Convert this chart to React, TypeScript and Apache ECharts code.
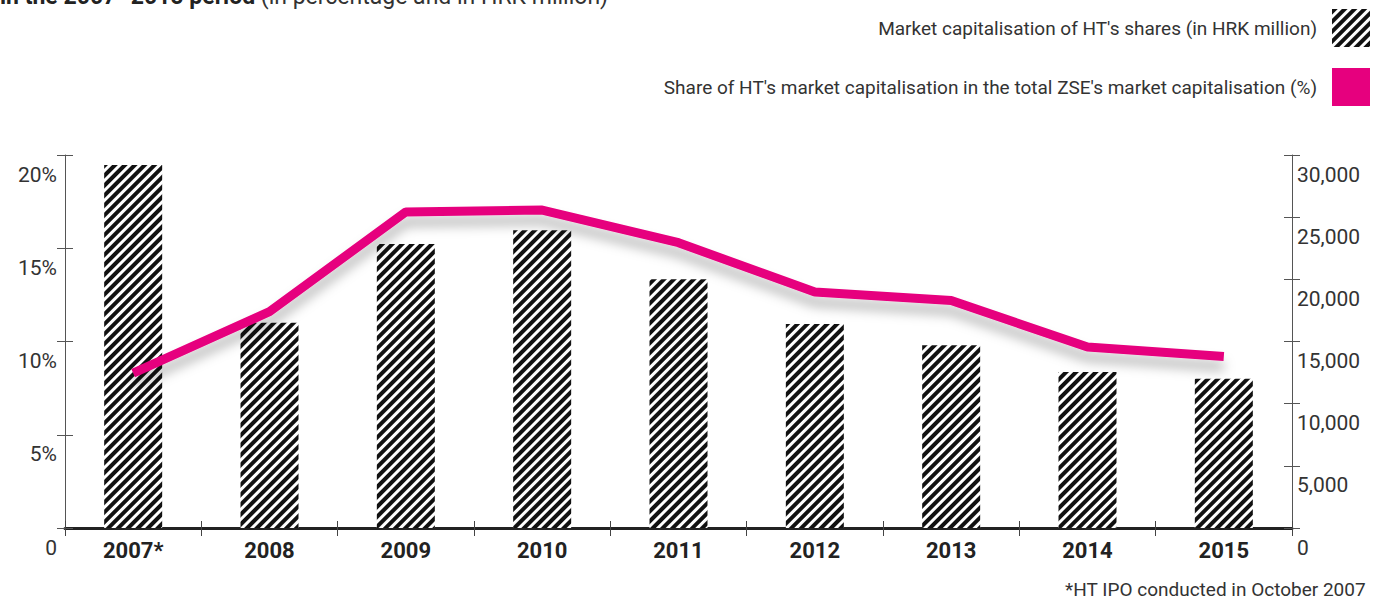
import React, { useEffect, useRef } from "react";
import * as echarts from "echarts";

const years = ["2007*", "2008", "2009", "2010", "2011", "2012", "2013", "2014", "2015"];
const marketCap = [29200, 16500, 22850, 23950, 20000, 16400, 14700, 12550, 12000];
const sharePct = [8.3, 11.6, 16.95, 17.05, 15.3, 12.65, 12.2, 9.7, 9.2];
const leftTicks = { min: 0, max: 20, interval: 5 };
const rightTicks = { min: 0, max: 30000, interval: 5000 };

const barName = "Market capitalisation of HT's shares (in HRK million)";
const lineName = "Share of HT's market capitalisation in the total ZSE's market capitalisation (%)";
const footnote = "*HT IPO conducted in October 2007";

const FONT = "Roboto, 'Liberation Sans', sans-serif";
const MAGENTA = "#e6007e";

export default function App() {
  const ref = useRef<HTMLDivElement>(null);
  useEffect(() => {
    if (!ref.current) return;
    const chart = echarts.init(ref.current, null, { renderer: "svg" });
    const decal = {
      symbol: "rect",
      symbolSize: 1,
      dashArrayX: [1, 0],
      dashArrayY: [3.2, 3],
      rotation: -Math.PI / 4,
      color: "#111",
      backgroundColor: "#fff",
    };
    const axisLabelStyle = {
      color: "#333",
      fontSize: 21,
      fontFamily: FONT,
      verticalAlign: "top" as const,
      padding: [9, 0, 0, 0],
    };
    chart.setOption({
      animation: false,
      grid: { left: 65, right: 81, top: 155, bottom: 72, containLabel: false },
      legend: {
        orient: "vertical",
        align: "right",
        right: 3,
        top: 9,
        padding: 0,
        itemWidth: 38,
        itemHeight: 38,
        itemGap: 21,
        selectedMode: false,
        textStyle: { color: "#333", fontSize: 19, fontFamily: FONT, padding: [0, 10, 0, 0] },
        data: [
          { name: barName, icon: "rect" },
          { name: lineName, icon: "rect" },
        ],
      },
      graphic: [
        {
          type: "text",
          left: 0,
          top: -15,
          style: {
            text: "{b|in the 2007–2015 period} (in percentage and in HRK million)",
            fill: "#333",
            fontSize: 23,
            fontFamily: FONT,
            rich: { b: { fontWeight: "bold", fill: "#222", fontSize: 23, fontFamily: FONT } },
          },
        },
        {
          type: "text",
          right: 7,
          top: 580,
          style: { text: footnote, fill: "#333", fontSize: 19, fontFamily: FONT },
        },
      ],
      xAxis: [
        {
          type: "category",
          data: years,
          boundaryGap: true,
          axisLine: { show: true, lineStyle: { color: "#222", width: 3 } },
          axisTick: { show: true, length: 8, lineStyle: { color: "#444", width: 1 } },
          axisLabel: { color: "#222", fontSize: 22, fontWeight: "bold", fontFamily: FONT, margin: 11 },
        },
        {
          type: "category",
          data: years,
          position: "bottom",
          boundaryGap: true,
          axisLine: { show: false },
          axisTick: { show: true, inside: true, length: 7, lineStyle: { color: "#444", width: 1 } },
          axisLabel: { show: false },
        },
      ],
      yAxis: [
        {
          type: "value",
          position: "left",
          ...leftTicks,
          axisLine: { show: true, lineStyle: { color: "#555", width: 1 } },
          axisTick: { show: true, length: 8, lineStyle: { color: "#555", width: 1 } },
          splitLine: { show: false },
          axisLabel: { ...axisLabelStyle, margin: 8, formatter: (v: number) => (v === 0 ? "0" : v + "%") },
        },
        {
          type: "value",
          position: "right",
          ...rightTicks,
          axisLine: { show: true, lineStyle: { color: "#555", width: 1 } },
          axisTick: { show: true, length: 8, lineStyle: { color: "#555", width: 1 } },
          splitLine: { show: false },
          axisLabel: {
            ...axisLabelStyle,
            margin: 5,
            formatter: (v: number) => v.toLocaleString("en-US"),
          },
        },
        {
          type: "value",
          position: "left",
          ...leftTicks,
          axisLine: { show: false },
          axisTick: { show: true, inside: true, length: 8, lineStyle: { color: "#555", width: 1 } },
          splitLine: { show: false },
          axisLabel: { show: false },
        },
        {
          type: "value",
          position: "right",
          ...rightTicks,
          axisLine: { show: false },
          axisTick: { show: true, inside: true, length: 8, lineStyle: { color: "#555", width: 1 } },
          splitLine: { show: false },
          axisLabel: { show: false },
        },
      ],
      series: [
        {
          name: barName,
          type: "bar",
          yAxisIndex: 1,
          data: marketCap,
          barWidth: 58,
          itemStyle: { color: "#fff", decal },
        },
        {
          name: lineName,
          type: "line",
          yAxisIndex: 0,
          data: sharePct,
          symbol: "none",
          itemStyle: { color: MAGENTA },
          lineStyle: {
            color: MAGENTA,
            width: 9,
            cap: "butt",
            shadowColor: "rgba(0,0,0,0.28)",
            shadowBlur: 12,
            shadowOffsetY: 10,
          },
        },
      ],
    });
    return () => chart.dispose();
  }, []);
  return (
    <div
      ref={ref}
      style={{ position: "absolute", left: 0, top: 0, width: 1373, height: 600, background: "#fff" }}
    />
  );
}
